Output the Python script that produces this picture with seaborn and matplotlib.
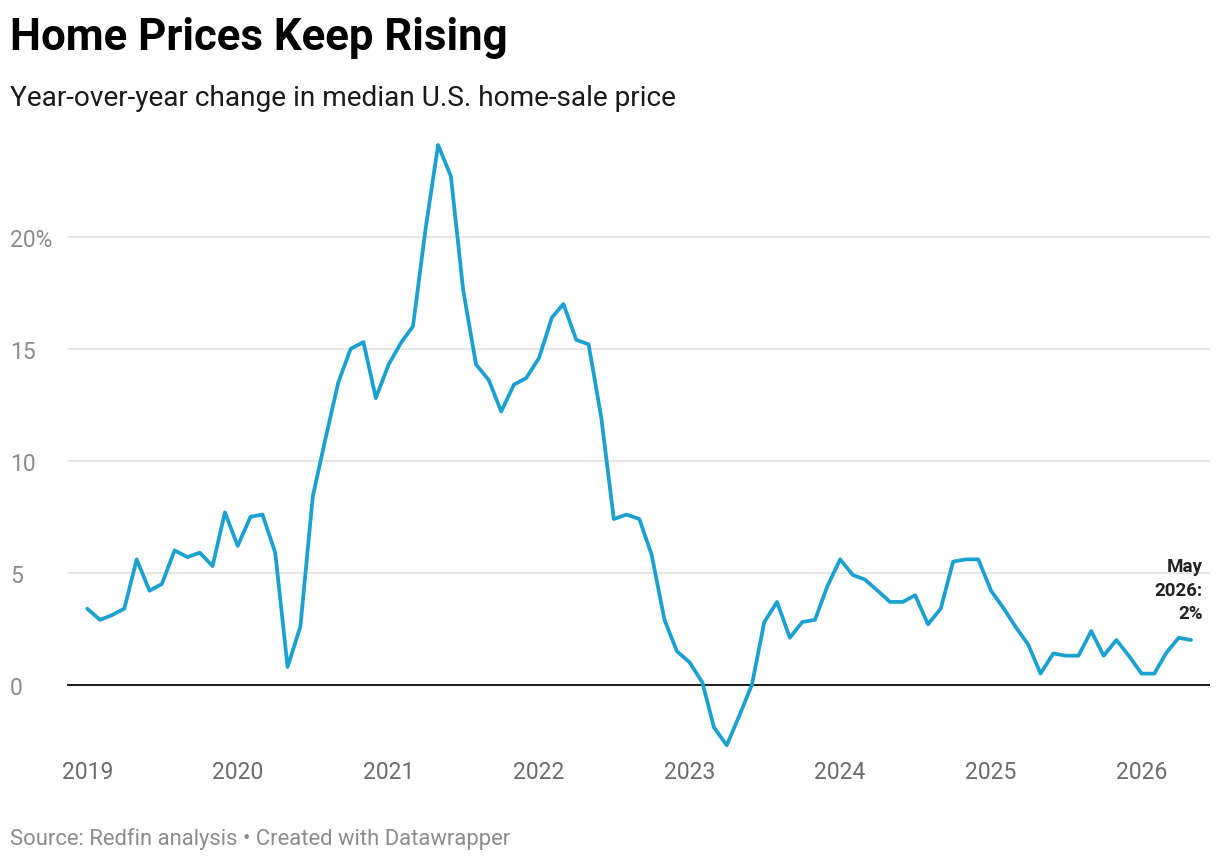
import pandas as pd
import seaborn as sns
import matplotlib.pyplot as plt
import matplotlib.dates as mdates

# Year-over-year change in median U.S. home-sale price (%), monthly Jan 2019 - May 2026
yoy_2019 = [3.4, 2.9, 3.1, 3.4, 5.6, 4.2, 4.5, 6.0, 5.7, 5.9, 5.3, 7.7]
yoy_2020 = [6.2, 7.5, 7.6, 5.9, 0.8, 2.6, 8.4, 11.0, 13.5, 15.0, 15.3, 12.8]
yoy_2021 = [14.3, 15.3, 16.0, 20.4, 24.1, 22.7, 17.6, 14.3, 13.6, 12.2, 13.4, 13.7]
yoy_2022 = [14.6, 16.4, 17.0, 15.4, 15.2, 11.9, 7.4, 7.6, 7.4, 5.8, 2.9, 1.5]
yoy_2023 = [1.0, 0.1, -1.9, -2.7, -1.4, 0.0, 2.8, 3.7, 2.1, 2.8, 2.9, 4.4]
yoy_2024 = [5.6, 4.9, 4.7, 4.2, 3.7, 3.7, 4.0, 2.7, 3.4, 5.5, 5.6, 5.6]
yoy_2025 = [4.2, 3.4, 2.6, 1.8, 0.5, 1.4, 1.3, 1.3, 2.4, 1.3, 2.0, 1.3]
yoy_2026 = [0.5, 0.5, 1.4, 2.1, 2.0]

y_ticks = [0, 5, 10, 15, 20]
y_tick_labels = ['0', '5', '10', '15', '20%']
x_years = list(range(2019, 2027))

values = yoy_2019 + yoy_2020 + yoy_2021 + yoy_2022 + yoy_2023 + yoy_2024 + yoy_2025 + yoy_2026
df = pd.DataFrame({
    'month': pd.date_range('2019-01-01', periods=len(values), freq='MS'),
    'yoy': values,
})

sns.set_style('white')
plt.rcParams['font.family'] = ['Roboto', 'DejaVu Sans']

W, H = 1220, 862
fig = plt.figure(figsize=(W / 100, H / 100), dpi=100)
ax = fig.add_axes([67 / W, 1 - 753 / H, (1210 - 67) / W, (753 - 137) / H])

# grid + zero line
for t in y_ticks[1:]:
    ax.axhline(t, color='#e3e3e3', lw=1.2, zorder=0)
ax.axhline(0, color='#1a1a1a', lw=1.4, zorder=1)

sns.lineplot(data=df, x='month', y='yoy', ax=ax, color='#1ba1d0', lw=2.7, zorder=3)

ax.set_xlim(pd.Timestamp('2018-11-13'), pd.Timestamp('2026-06-16'))
ax.set_ylim(-3, 24.5)
ax.set_xlabel(None)
ax.set_ylabel(None)

ax.set_xticks([pd.Timestamp(f'{y}-01-01') for y in x_years])
ax.xaxis.set_major_formatter(mdates.DateFormatter('%Y'))
ax.set_yticks(y_ticks)
ax.set_yticklabels(y_tick_labels)
for lab in ax.get_yticklabels():
    lab.set_horizontalalignment('left')
ax.tick_params(axis='y', length=0, pad=41, labelsize=16.5, labelcolor='#8c8c8c')
ax.tick_params(axis='x', length=0, pad=6, labelsize=16.5, labelcolor='#6b6b6b')
for s in ax.spines.values():
    s.set_visible(False)

# end label
last = df.iloc[-1]
ax.annotate('May\n2026:\n2%', xy=(last['month'], last['yoy']), xytext=(8.5, 13),
            textcoords='offset points', ha='right', va='bottom',
            fontsize=13.5, fontweight='bold', color='#222222', linespacing=1.38)

fig.text(10 / W, 1 - 50 / H, 'Home Prices Keep Rising', fontsize=31.5, fontweight='bold',
         color='#000000', ha='left', va='baseline')
fig.text(10 / W, 1 - 106 / H, 'Year-over-year change in median U.S. home-sale price',
         fontsize=20.2, color='#1a1a1a', ha='left', va='baseline')
fig.text(10 / W, 1 - 845 / H, 'Source: Redfin analysis \u2022 Created with Datawrapper',
         fontsize=15.85, color='#8c8c8c', ha='left', va='baseline')

plt.savefig('out.png', dpi=100)
